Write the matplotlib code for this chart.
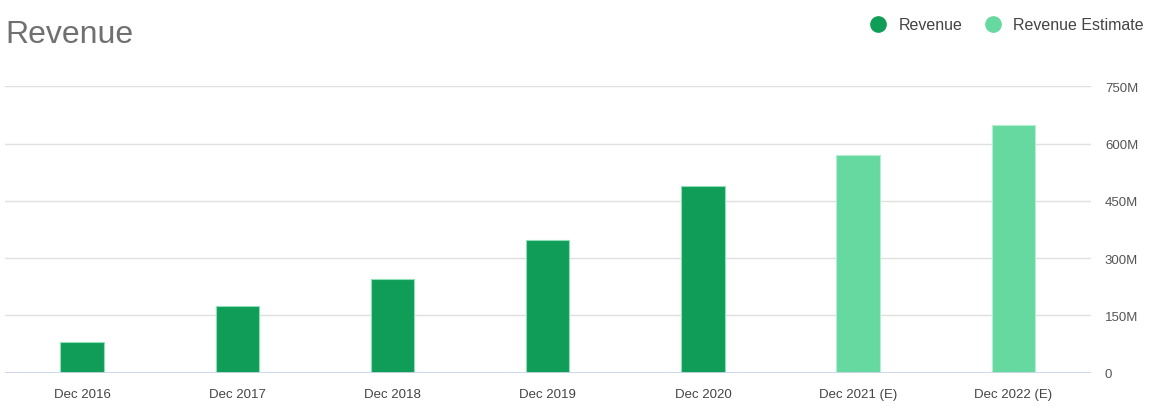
import matplotlib.pyplot as plt
from matplotlib.lines import Line2D
from matplotlib.ticker import FuncFormatter
import numpy as np

plt.rcParams['font.family'] = ['Liberation Sans', 'DejaVu Sans']

periods = ["Dec 2016", "Dec 2017", "Dec 2018", "Dec 2019", "Dec 2020",
           "Dec 2021 (E)", "Dec 2022 (E)"]
revenue = [80, 175, 245, 348, 490]        # millions, reported
estimate = [571, 649]                    # millions, estimates
y_ticks = [0, 150, 300, 450, 600, 750]

dark_green = "#109d58"
light_green = "#66d9a0"

fig = plt.figure(figsize=(11.53, 4.14), dpi=100)
ax = fig.add_axes([4.5 / 1153, 1 - 373.7 / 414, (1091 - 4.5) / 1153, (373.7 - 87.3) / 414])

x = np.arange(len(periods))
n_rev = len(revenue)
ax.bar(x[:n_rev], revenue, width=0.28, color=dark_green,
       edgecolor="#8fe0b8", linewidth=0.8, zorder=3)
ax.bar(x[n_rev:], estimate, width=0.28, color=light_green,
       edgecolor="#b5efd2", linewidth=0.8, zorder=3)

ax.set_xlim(-0.5, len(periods) - 0.5)
ax.set_ylim(0, 750)
ax.set_yticks(y_ticks)
ax.yaxis.set_major_formatter(FuncFormatter(lambda v, p: "0" if v == 0 else f"{v:.0f}M"))
ax.yaxis.tick_right()
ax.grid(axis="y", color="#e0e0e0", linewidth=1, zorder=0)
ax.axhline(0, color="#ccd6eb", linewidth=2, zorder=4)

ax.set_xticks(x)
ax.set_xticklabels(periods)
ax.tick_params(axis="x", length=0, pad=11, labelsize=9.5, labelcolor="#444444")
ax.tick_params(axis="y", length=0, pad=10, labelsize=9.5, labelcolor="#555555")
for s in ax.spines.values():
    s.set_visible(False)

fig.text(5 / 1153, 1 - 35 / 414, "Revenue", fontsize=23, color="#707070",
         ha="left", va="center")

handles = [Line2D([], [], marker="o", linestyle="none", markersize=11,
                  markerfacecolor=c, markeredgecolor=c) for c in (dark_green, light_green)]
fig.legend(handles, ["Revenue", "Revenue Estimate"], loc="center right",
           bbox_to_anchor=(1152 / 1153, 1 - 26 / 414), ncol=2, frameon=False,
           fontsize=11.5, labelcolor="#444444", handletextpad=0.75,
           columnspacing=1.45, handlelength=1.0, borderpad=0)

fig.savefig("out.png", dpi=100)
